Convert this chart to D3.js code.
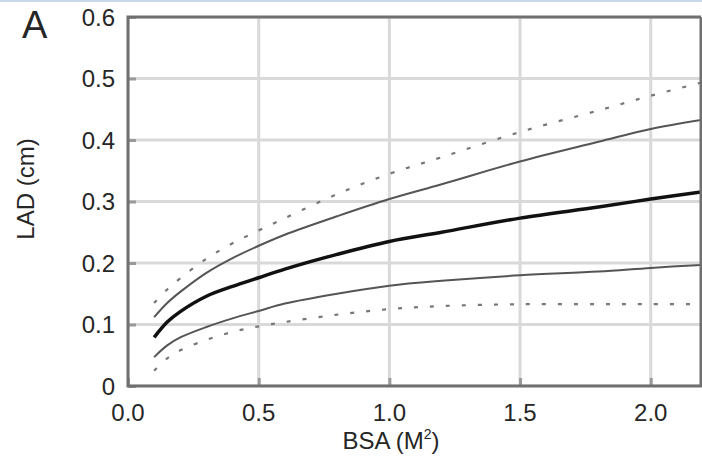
<!DOCTYPE html>
<html>
<head>
<meta charset="utf-8">
<script src="https://cdn.jsdelivr.net/npm/d3@7"></script>
<style>
  body { margin: 0; background: #fff; }
  svg { display: block; }
  text { font-family: "Liberation Sans", Arial, sans-serif; fill: #262626; }
</style>
</head>
<body>
<svg id="chart"></svg>
<script>
// BSA values where curves were read
var bsa = [0.1, 0.15, 0.2, 0.3, 0.4, 0.5, 0.6, 0.8, 1.0, 1.2, 1.5, 1.8, 2.0, 2.2];

// LAD (cm) curves
var plus2sd  = [0.135, 0.157, 0.175, 0.207, 0.232, 0.253, 0.273, 0.312, 0.345, 0.372, 0.413, 0.448, 0.472, 0.494];
var plus1sd  = [0.112, 0.135, 0.153, 0.184, 0.208, 0.228, 0.246, 0.276, 0.304, 0.328, 0.365, 0.397, 0.418, 0.433];
var meanLine = [0.079, 0.104, 0.121, 0.146, 0.162, 0.176, 0.190, 0.214, 0.235, 0.250, 0.273, 0.291, 0.304, 0.316];
var minus1sd = [0.047, 0.066, 0.079, 0.096, 0.110, 0.122, 0.134, 0.150, 0.163, 0.171, 0.180, 0.186, 0.192, 0.197];
var minus2sd = [0.025, 0.045, 0.058, 0.075, 0.088, 0.097, 0.104, 0.116, 0.125, 0.130, 0.133, 0.133, 0.133, 0.133];

var xTicks = [0, 0.5, 1.0, 1.5, 2.0];
var xTickLabels = ["0.0", "0.5", "1.0", "1.5", "2.0"];
var yTicks = [0, 0.1, 0.2, 0.3, 0.4, 0.5, 0.6];
var yTickLabels = ["0", "0.1", "0.2", "0.3", "0.4", "0.5", "0.6"];

var width = 702, height = 461;
var plotLeft = 128, plotTop = 17, plotBottom = 386, plotRight = 701;

var svg = d3.select("#chart").attr("width", width).attr("height", height);

// thin blue strip at the very top
svg.append("rect").attr("x", 0).attr("y", 0).attr("width", width).attr("height", 2)
  .attr("fill", "#c9d8ec");

var x = d3.scaleLinear().domain([0, 2.2]).range([plotLeft, 703]);
var y = d3.scaleLinear().domain([0, 0.6]).range([plotBottom, plotTop]);

svg.append("clipPath").attr("id", "clip")
  .append("rect").attr("x", plotLeft).attr("y", plotTop)
  .attr("width", plotRight - plotLeft).attr("height", plotBottom - plotTop);

// grid
var grid = svg.append("g").attr("clip-path", "url(#clip)");
grid.selectAll(".vg").data(xTicks).enter().append("line")
  .attr("x1", function(d) { return x(d); }).attr("x2", function(d) { return x(d); })
  .attr("y1", plotTop).attr("y2", plotBottom)
  .attr("stroke", "#d9d9d9").attr("stroke-width", 3);
grid.selectAll(".hg").data(yTicks).enter().append("line")
  .attr("y1", function(d) { return y(d); }).attr("y2", function(d) { return y(d); })
  .attr("x1", plotLeft).attr("x2", plotRight)
  .attr("stroke", "#d9d9d9").attr("stroke-width", 3);

// inward ticks
svg.append("g").attr("transform", "translate(0," + plotBottom + ")")
  .call(d3.axisTop(x).tickValues(xTicks).tickSize(8).tickFormat(""))
  .call(function(g) { g.select(".domain").remove(); g.selectAll("line").attr("stroke", "#9a9a9a").attr("stroke-width", 3); });
svg.append("g").attr("transform", "translate(" + plotLeft + ",0)")
  .call(d3.axisRight(y).tickValues(yTicks).tickSize(8).tickFormat(""))
  .call(function(g) { g.select(".domain").remove(); g.selectAll("line").attr("stroke", "#9a9a9a").attr("stroke-width", 3); });

// curves
var line = d3.line()
  .x(function(d) { return x(d[0]); })
  .y(function(d) { return y(d[1]); })
  .curve(d3.curveCatmullRom.alpha(0.5));

function series(vals) { return bsa.map(function(b, i) { return [b, vals[i]]; }); }

var curves = [
  { vals: plus2sd,  color: "#777777", w: 2.2, dash: "4,12" },
  { vals: minus2sd, color: "#777777", w: 2.2, dash: "4,12" },
  { vals: plus1sd,  color: "#555555", w: 2,   dash: null },
  { vals: minus1sd, color: "#555555", w: 2,   dash: null },
  { vals: meanLine, color: "#111111", w: 3.5, dash: null }
];

var plot = svg.append("g").attr("clip-path", "url(#clip)");
curves.forEach(function(c) {
  plot.append("path")
    .datum(series(c.vals))
    .attr("d", line)
    .attr("fill", "none")
    .attr("stroke", c.color)
    .attr("stroke-width", c.w)
    .attr("stroke-dasharray", c.dash);
});

// frame (left, top, bottom, right)
svg.append("path")
  .attr("d", "M" + plotRight + "," + plotTop + "H" + plotLeft + "V" + plotBottom + "H" + plotRight + "V" + plotTop)
  .attr("fill", "none").attr("stroke", "#707070").attr("stroke-width", 3);

// tick labels
svg.selectAll(".xl").data(xTicks).enter().append("text")
  .attr("x", function(d) { return x(d); }).attr("y", 421)
  .attr("text-anchor", "middle").attr("font-size", 24)
  .text(function(d, i) { return xTickLabels[i]; });
svg.selectAll(".yl").data(yTicks).enter().append("text")
  .attr("x", 115).attr("y", function(d) { return y(d); }).attr("dy", "0.36em")
  .attr("text-anchor", "end").attr("font-size", 24)
  .text(function(d, i) { return yTickLabels[i]; });

// axis titles
var xt = svg.append("text").attr("x", 391).attr("y", 449)
  .attr("text-anchor", "middle").attr("font-size", 24);
xt.append("tspan").text("BSA (M");
xt.append("tspan").attr("font-size", 14).attr("dy", -10).text("2");
xt.append("tspan").attr("dy", 10).text(")");

svg.append("text")
  .attr("transform", "translate(34,189) rotate(-90)")
  .attr("text-anchor", "middle").attr("font-size", 24)
  .text("LAD (cm)");

svg.append("text").attr("x", 22).attr("y", 38)
  .attr("font-size", 38).attr("fill", "#111").text("A");
</script>
</body>
</html>
